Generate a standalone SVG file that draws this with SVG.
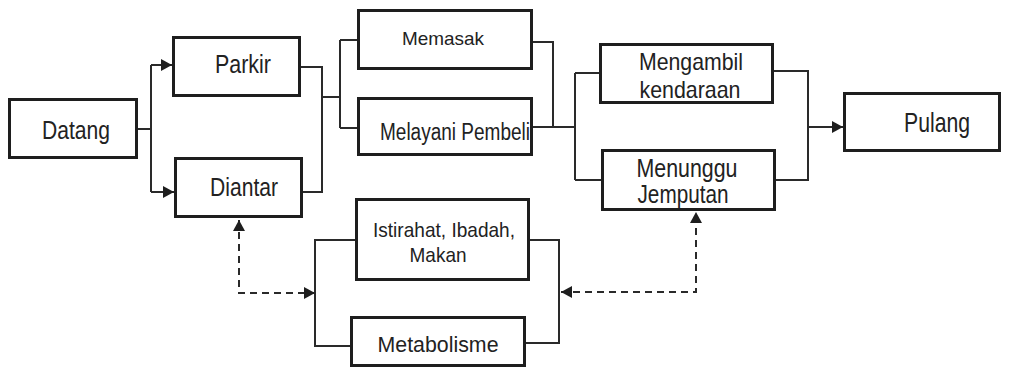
<svg xmlns="http://www.w3.org/2000/svg" width="1009" height="370" viewBox="0 0 1009 370">
<style>
.box{fill:#fff;stroke:#1e1e1e;stroke-width:3}
.ln{fill:none;stroke:#2a2a2a;stroke-width:2}
.ar{marker-end:url(#ah)}
.dash{fill:none;stroke:#2a2a2a;stroke-width:2;stroke-dasharray:7 5;marker-start:url(#ah);marker-end:url(#ah)}
text{font-family:"Liberation Sans",Arial,sans-serif;fill:#222;text-anchor:middle}
</style>
<defs>
<marker id="ah" markerUnits="userSpaceOnUse" markerWidth="12" markerHeight="12" refX="11" refY="6" orient="auto-start-reverse">
<path d="M0,0 L11,6 L0,12 Z" fill="#1e1e1e"/>
</marker>
</defs>
<rect width="1009" height="370" fill="#fff"/>
<g id="connectors">
<path class="ln" d="M138,129 H151 M151,65 V192"/>
<path class="ln ar" d="M151,65 H172"/>
<path class="ln ar" d="M151,192 H174"/>
<path class="ln" d="M301,67 H322 V192 H303 M322,97 H340 M340,40 V128 M340,40 H357 M340,128 H357"/>
<path class="ln" d="M533,42 H553 V127 M533,127 H575 M575,73 V180 M575,73 H599 M575,180 H601"/>
<path class="ln" d="M774,71 H808 V180 H776"/>
<path class="ln ar" d="M808,127 H843"/>
<path class="ln" d="M355,240 H315 V346 H350 M530,240 H559 V343 H526"/>
<path class="dash" d="M239,220 V293 H315"/>
<path class="dash" d="M561,292 H696 V212"/>
</g>
<g id="datang"><rect class="box" x="9.5" y="99.5" width="127" height="58"/><text x="76" y="139" font-size="25" textLength="68" lengthAdjust="spacingAndGlyphs">Datang</text></g>
<g id="parkir"><rect class="box" x="173.5" y="37.5" width="126" height="58"/><text x="243" y="73" font-size="25" textLength="56" lengthAdjust="spacingAndGlyphs">Parkir</text></g>
<g id="diantar"><rect class="box" x="175.5" y="158.5" width="126" height="58"/><text x="244" y="196" font-size="25" textLength="68" lengthAdjust="spacingAndGlyphs">Diantar</text></g>
<g id="memasak"><rect class="box" x="358.5" y="10.5" width="173" height="58"/><text x="443" y="45" font-size="19" textLength="82" lengthAdjust="spacingAndGlyphs">Memasak</text></g>
<g id="melayani"><rect class="box" x="358.5" y="98.5" width="173" height="56"/><text x="455" y="140" font-size="23" textLength="150" lengthAdjust="spacingAndGlyphs">Melayani Pembeli</text></g>
<g id="mengambil"><rect class="box" x="600.5" y="44.5" width="172" height="58"/><text x="691" y="70" font-size="24" textLength="104" lengthAdjust="spacingAndGlyphs">Mengambil</text><text x="690" y="98" font-size="24" textLength="101" lengthAdjust="spacingAndGlyphs">kendaraan</text></g>
<g id="menunggu"><rect class="box" x="602.5" y="150.5" width="172" height="59"/><text x="687" y="177" font-size="25" textLength="101" lengthAdjust="spacingAndGlyphs">Menunggu</text><text x="683" y="203" font-size="25" textLength="91" lengthAdjust="spacingAndGlyphs">Jemputan</text></g>
<g id="pulang"><rect class="box" x="844.5" y="93.5" width="155" height="57"/><text x="937" y="132" font-size="28" textLength="66" lengthAdjust="spacingAndGlyphs">Pulang</text></g>
<g id="istirahat"><rect class="box" x="356.5" y="199.5" width="172" height="80"/><text x="444" y="237" font-size="21" textLength="142" lengthAdjust="spacingAndGlyphs">Istirahat, Ibadah,</text><text x="438" y="262" font-size="21" textLength="57" lengthAdjust="spacingAndGlyphs">Makan</text></g>
<g id="metabolisme"><rect class="box" x="351.5" y="317.5" width="173" height="48"/><text x="438" y="352" font-size="22" textLength="121" lengthAdjust="spacingAndGlyphs">Metabolisme</text></g>
</svg>
